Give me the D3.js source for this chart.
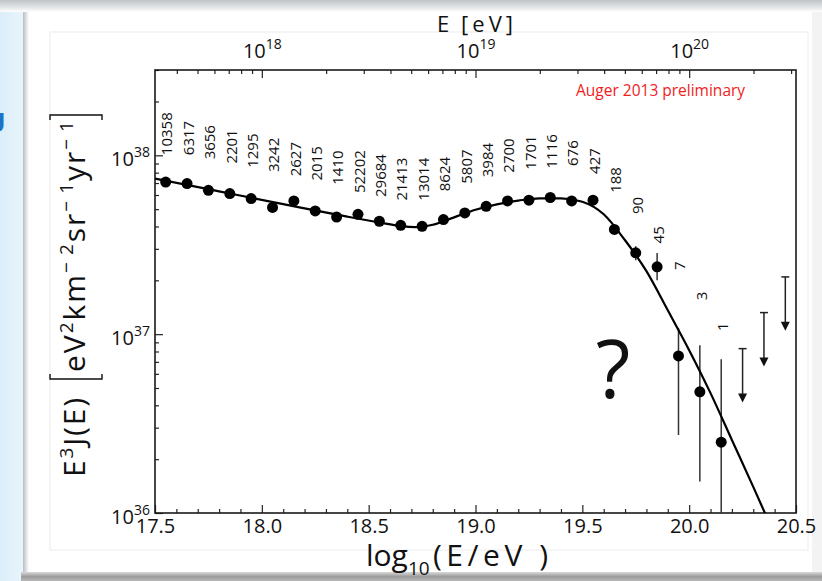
<!DOCTYPE html>
<html>
<head>
<meta charset="utf-8">
<script src="https://cdn.jsdelivr.net/npm/d3@7"></script>
<style>
body { margin: 0; background: #fff; }
svg { display: block; }
text { font-family: "Open Sans", "Noto Sans", sans-serif; }
</style>
</head>
<body>
<script>
var W = 822, H = 581;
var plot = {left: 155, right: 796, top: 70, bottom: 513};

// bin centres, log10(E/eV)
var binLogE = [17.55, 17.65, 17.75, 17.85, 17.95, 18.05, 18.15, 18.25, 18.35, 18.45,
               18.55, 18.65, 18.75, 18.85, 18.95, 19.05, 19.15, 19.25, 19.35, 19.45,
               19.55, 19.65, 19.75, 19.85, 19.95, 20.05, 20.15];
// E^3 J(E) in eV^2 km^-2 sr^-1 yr^-1
var flux = [7.09e37, 6.95e37, 6.37e37, 6.11e37, 5.73e37, 5.11e37, 5.56e37, 4.89e37, 4.52e37, 4.68e37,
            4.28e37, 4.06e37, 4.01e37, 4.37e37, 4.76e37, 5.19e37, 5.56e37, 5.61e37, 5.81e37, 5.56e37,
            5.61e37, 3.85e37, 2.85e37, 2.38e37, 7.56e36, 4.76e36, 2.49e36];
var errLow = [7.03e37, 6.89e37, 6.31e37, 6.05e37, 5.67e37, 5.05e37, 5.49e37, 4.83e37, 4.47e37, 4.64e37,
              4.25e37, 4.03e37, 3.98e37, 4.33e37, 4.71e37, 5.12e37, 5.47e37, 5.49e37, 5.64e37, 5.33e37,
              5.28e37, 3.62e37, 2.59e37, 2.00e37, 2.73e36, 1.50e36, 5.0e35];
var errHigh = [7.15e37, 7.01e37, 6.43e37, 6.17e37, 5.79e37, 5.17e37, 5.63e37, 4.95e37, 4.57e37, 4.72e37,
               4.31e37, 4.09e37, 4.04e37, 4.41e37, 4.81e37, 5.26e37, 5.65e37, 5.73e37, 5.98e37, 5.80e37,
               5.95e37, 4.09e37, 3.10e37, 2.84e37, 1.08e37, 8.68e36, 7.25e36];
var counts = ["10358", "6317", "3656", "2201", "1295", "3242", "2627", "2015", "1410", "52202",
              "29684", "21413", "13014", "8624", "5807", "3984", "2700", "1701", "1116", "676",
              "427", "188", "90", "45", "7", "3", "1"];

// upper limits
var limLogE = [20.25, 20.35, 20.45];
var limFlux = [8.3e36, 1.32e37, 2.09e37];

// fitted curve
var fitLogE = [17.5, 17.8, 18.1, 18.4, 18.55, 18.65, 18.72, 18.8, 18.9, 19.0, 19.1, 19.2,
               19.3, 19.4, 19.5, 19.6, 19.7, 19.8, 19.9, 20.0, 20.1, 20.2, 20.3, 20.4];
var fitFlux = [7.41e37, 6.29e37, 5.34e37, 4.54e37, 4.21e37, 4.02e37, 3.97e37, 4.09e37, 4.50e37, 4.96e37, 5.32e37, 5.58e37,
               5.75e37, 5.75e37, 5.50e37, 4.68e37, 3.35e37, 2.25e37, 1.36e37, 8.14e36, 4.68e36, 2.56e36, 1.40e36, 7.54e35];

var xMajorTicks = [17.5, 18.0, 18.5, 19.0, 19.5, 20.0, 20.5];
var xTickLabels = ["17.5", "18.0", "18.5", "19.0", "19.5", "20.0", "20.5"];

var svg = d3.select("body").append("svg").attr("width", W).attr("height", H);
var defs = svg.append("defs");

function grad(id, x2, y2, stops) {
    var g = defs.append("linearGradient").attr("id", id)
        .attr("x1", 0).attr("y1", 0).attr("x2", x2).attr("y2", y2);
    stops.forEach(function (s) {
        g.append("stop").attr("offset", s[0]).attr("stop-color", s[1]);
    });
}
grad("leftBlue", 1, 0, [[0, "#dbeef9"], [1, "#e8f4fb"]]);
grad("shadow", 1, 0, [[0, "#b9bdc1"], [1, "#ffffff"]]);
grad("topBar", 0, 1, [[0, "#bfc3c6"], [0.6, "#e2e4e6"], [1, "#ffffff"]]);
grad("bottomBar", 0, 1, [[0, "#dadada"], [0.5, "#9c9c9c"], [1, "#b8b8b8"]]);

// slide background
svg.append("rect").attr("width", W).attr("height", H).attr("fill", "#fff");
svg.append("rect").attr("x", 0).attr("y", 0).attr("width", 23).attr("height", H).attr("fill", "url(#leftBlue)");
svg.append("rect").attr("x", 23).attr("y", 8).attr("width", 6).attr("height", 565).attr("fill", "url(#shadow)");
svg.append("rect").attr("x", 812).attr("y", 0).attr("width", 10).attr("height", H).attr("fill", "#f3f3f3");
svg.append("rect").attr("x", 0).attr("y", 0).attr("width", W).attr("height", 12).attr("fill", "url(#topBar)");
svg.append("rect").attr("x", 21).attr("y", 572).attr("width", W - 21).attr("height", 9).attr("fill", "url(#bottomBar)");
svg.append("rect").attr("x", 50).attr("y", 32).attr("width", 758).attr("height", 518)
    .attr("fill", "none").attr("stroke", "#ececec");
svg.append("text").attr("x", -14).attr("y", 132).attr("font-size", 26).attr("font-weight", "bold")
    .attr("fill", "#1d74c4").text("U");

var x = d3.scaleLinear().domain([17.5, 20.5]).range([plot.left, plot.right]);
var eScale = d3.scaleLog().domain([Math.pow(10, 17.5), Math.pow(10, 20.5)]).range([plot.left, plot.right]);
var y = d3.scaleLog().domain([1e36, 3e38]).range([plot.bottom, plot.top]);

function isPow10(v) {
    var l = Math.log10(v);
    return Math.abs(l - Math.round(l)) < 1e-9;
}
function powLabel(sel, supDy) {
    sel.each(function (d) {
        var t = d3.select(this).text("");
        if (!isPow10(d)) return;
        t.append("tspan").text("10");
        t.append("tspan").attr("font-size", 14).attr("dy", supDy).text(Math.round(Math.log10(d)));
    });
}

svg.append("clipPath").attr("id", "plotClip").append("rect")
    .attr("x", plot.left).attr("y", plot.top)
    .attr("width", plot.right - plot.left).attr("height", plot.bottom - plot.top);

// bottom axis
var gx = svg.append("g").attr("transform", "translate(0," + plot.bottom + ")")
    .call(d3.axisBottom(x).tickValues(x.ticks(30)).tickSize(-4).tickPadding(6)
        .tickFormat(function (d) {
            var i = xMajorTicks.findIndex(function (v) { return Math.abs(v - d) < 1e-6; });
            return i < 0 ? "" : xTickLabels[i];
        }));
gx.selectAll(".tick line").attr("y2", function (d) {
    return xMajorTicks.some(function (v) { return Math.abs(v - d) < 1e-6; }) ? -8 : -4;
});

// left axis
var gy = svg.append("g").attr("transform", "translate(" + plot.left + ",0)")
    .call(d3.axisLeft(y).tickSize(-4).tickPadding(5));
gy.selectAll(".tick line").attr("x2", function (d) { return isPow10(d) ? 8 : 4; });
gy.selectAll(".tick text").attr("dy", null).attr("y", 10).call(powLabel, -9);

// top axis (energy in eV)
var gt = svg.append("g").attr("transform", "translate(0," + plot.top + ")")
    .call(d3.axisTop(eScale).tickSize(-4).tickPadding(12));
gt.selectAll(".tick line").attr("y2", function (d) { return isPow10(d) ? 8 : 4; });
gt.selectAll(".tick text").call(powLabel, -9);

[gx, gy, gt].forEach(function (g) {
    g.attr("font-size", 20).attr("font-family", null);
    g.select(".domain").remove();
    g.selectAll(".tick line").attr("stroke", "#222").attr("stroke-width", 1.2);
    g.selectAll(".tick text").attr("fill", "#111");
});

// frame
svg.append("rect").attr("x", plot.left).attr("y", plot.top)
    .attr("width", plot.right - plot.left).attr("height", plot.bottom - plot.top)
    .attr("fill", "none").attr("stroke", "#1a1a1a").attr("stroke-width", 1.6);

var marks = svg.append("g").attr("clip-path", "url(#plotClip)");

// error bars
marks.selectAll("line.err").data(binLogE).enter().append("line").attr("class", "err")
    .attr("x1", function (d) { return x(d); }).attr("x2", function (d) { return x(d); })
    .attr("y1", function (d, i) { return y(errLow[i]); })
    .attr("y2", function (d, i) { return y(errHigh[i]); })
    .attr("stroke", "#333").attr("stroke-width", 1.5);

// upper limits
var lim = marks.selectAll("g.lim").data(limLogE).enter().append("g").attr("class", "lim");
lim.append("line")
    .attr("x1", function (d) { return x(d); }).attr("x2", function (d) { return x(d); })
    .attr("y1", function (d, i) { return y(limFlux[i]); })
    .attr("y2", function (d, i) { return y(limFlux[i] / 2) - 6; })
    .attr("stroke", "#222").attr("stroke-width", 1.5);
lim.append("line")
    .attr("x1", function (d) { return x(d) - 4; }).attr("x2", function (d) { return x(d) + 4; })
    .attr("y1", function (d, i) { return y(limFlux[i]); })
    .attr("y2", function (d, i) { return y(limFlux[i]); })
    .attr("stroke", "#222").attr("stroke-width", 1.5);
lim.append("path")
    .attr("d", function (d, i) {
        var cx = x(d), tip = y(limFlux[i] / 2);
        return "M" + (cx - 4.5) + "," + (tip - 9) + "L" + (cx + 4.5) + "," + (tip - 9) + "L" + cx + "," + tip + "Z";
    })
    .attr("fill", "#111");

// fit
var fitLine = d3.line()
    .x(function (d) { return x(d); })
    .y(function (d, i) { return y(fitFlux[i]); })
    .curve(d3.curveMonotoneX);
marks.append("path").datum(fitLogE).attr("d", fitLine)
    .attr("fill", "none").attr("stroke", "#000").attr("stroke-width", 2.2);

// points
marks.selectAll("circle").data(binLogE).enter().append("circle")
    .attr("cx", function (d) { return x(d); })
    .attr("cy", function (d, i) { return y(flux[i]); })
    .attr("r", 5.5).attr("fill", "#000");

// event counts above the fit
var fitAt = d3.scaleLinear().domain(fitLogE).range(fitFlux.map(function (v) { return Math.log10(v); }));
svg.append("g").selectAll("text").data(counts).enter().append("text")
    .attr("transform", function (d, i) {
        var lg = binLogE[i];
        var lift = 47 + 142 * Math.pow(Math.max(0, lg - 19.6), 2);
        var yc = y(Math.pow(10, fitAt(lg))) - lift;
        return "translate(" + (x(lg) + 1.5) + "," + yc + ") rotate(-90)";
    })
    .attr("text-anchor", "middle").attr("dy", "0.35em")
    .attr("font-size", 15).attr("fill", "#111")
    .text(function (d) { return d; });

// annotations
svg.append("text").attr("x", 576).attr("y", 96).attr("font-size", 15.5).attr("fill", "#f01c1c")
    .text("Auger 2013 preliminary");
svg.append("text").attr("x", 613).attr("y", 398).attr("text-anchor", "middle")
    .attr("font-size", 80).attr("fill", "#111").text("?");

// axis titles
svg.append("text").attr("x", 437).attr("y", 32).attr("font-size", 22).attr("fill", "#111").text("E");
svg.append("text").attr("x", 461).attr("y", 32).attr("font-size", 22).attr("fill", "#111")
    .attr("textLength", 52).attr("lengthAdjust", "spacing").text("[eV]");

var xt = svg.append("text").attr("x", 366).attr("y", 566).attr("font-size", 30).attr("fill", "#111");
xt.append("tspan").text("log");
xt.append("tspan").attr("font-size", 19).attr("dy", 9).text("10");
svg.append("text").attr("x", 433).attr("y", 566).attr("font-size", 30).attr("fill", "#111")
    .attr("textLength", 115).attr("lengthAdjust", "spacing").text("(E/eV\u00a0)");

var yt = svg.append("g").attr("transform", "translate(85,477) rotate(-90)").attr("fill", "#111");
var ytA = yt.append("text").attr("font-size", 30).attr("textLength", 79).attr("lengthAdjust", "spacing");
ytA.append("tspan").text("E");
ytA.append("tspan").attr("font-size", 19).attr("dy", -12).text("3");
ytA.append("tspan").attr("dy", 12).text("J(E)");
var ytB = yt.append("text").attr("x", 105).attr("font-size", 30)
    .attr("textLength", 251).attr("lengthAdjust", "spacing");
[["eV", null], ["2", 1], ["km", 0], ["\u2212\u20092", 1], ["sr", 0], ["\u2212\u20091", 1], ["yr", 0], ["\u2212\u20091", 1]]
    .forEach(function (p) {
        var ts = ytB.append("tspan").text(p[0]);
        if (p[1] === 1) ts.attr("font-size", 19).attr("dy", -12);
        if (p[1] === 0) ts.attr("dy", 12);
    });
function bracket(xs, dir) {
    yt.append("path")
        .attr("d", "M" + (xs + dir * 5) + ",-35H" + xs + "V17H" + (xs + dir * 5))
        .attr("fill", "none").attr("stroke", "#111").attr("stroke-width", 1.4);
}
bracket(98, 1);
bracket(362, -1);
</script>
</body>
</html>
